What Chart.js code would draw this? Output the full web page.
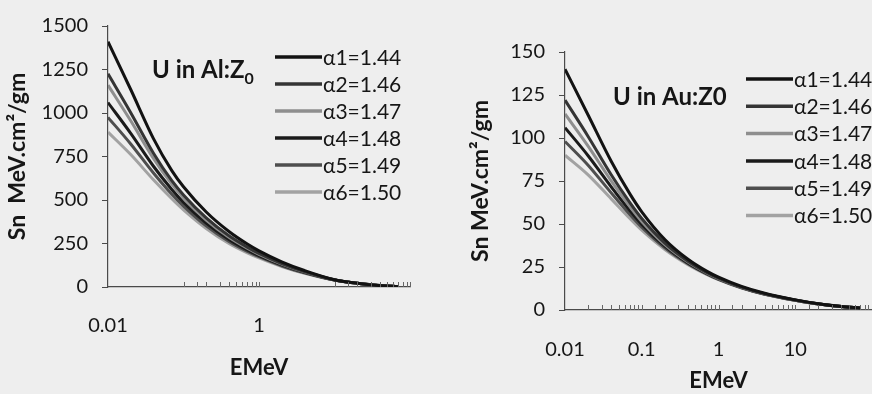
<!DOCTYPE html>
<html>
<head>
<meta charset="utf-8">
<script src="https://cdn.jsdelivr.net/npm/chart.js@4.4.1/dist/chart.umd.min.js"></script>
<style>
  html, body { margin: 0; padding: 0; background: #eeeeee; }
  #page { position: relative; width: 872px; height: 394px; overflow: hidden; background: #eeeeee; }
  #al-wrap { position: absolute; left: 0; top: 0; width: 440px; height: 394px; }
  #au-wrap { position: absolute; left: 440px; top: 0; width: 460px; height: 394px; }
</style>
</head>
<body>
<div id="page">
  <div id="al-wrap"><canvas id="chart-al"></canvas></div>
  <div id="au-wrap"><canvas id="chart-au"></canvas></div>
</div>
<script>
// energies in MeV (x axis, log)
var energies = [0.01, 0.02, 0.04, 0.07, 0.1, 0.2, 0.4, 0.7, 1, 2, 4, 10, 20, 40, 70];
var alphaLabels = ['α1=1.44', 'α2=1.46', 'α3=1.47', 'α4=1.48', 'α5=1.49', 'α6=1.50'];

// U in Al : Sn (MeV.cm2/gm)
var alSn1 = [1410, 1135, 853, 669, 576, 431, 319, 247, 208, 145, 95, 42, 22, 8, 2];
var alSn2 = [1225, 1002, 769, 611, 529, 397, 294, 229, 193, 135, 89, 41.5, 22, 8, 2];
var alSn3 = [1160, 955, 739, 591, 512, 385, 286, 223, 188, 132, 87, 41, 21.5, 8, 2];
var alSn4 = [1060, 883, 694, 560, 486, 367, 273, 213, 180, 127, 84, 40.5, 21, 7.5, 2];
var alSn5 = [975, 822, 655, 533, 465, 351, 261, 204, 174, 122, 82, 40, 21, 7.5, 2];
var alSn6 = [890, 761, 616, 507, 443, 336, 250, 196, 167, 118, 79, 40, 21, 7.5, 2];

// U in Au : Sn (MeV.cm2/gm)
var auSn1 = [140, 113.4, 86.5, 67.5, 57.1, 41.0, 29.5, 22.6, 19.1, 13.7, 9.7, 5.9, 3.6, 2.0, 1.1];
var auSn2 = [122, 100.9, 78.6, 62.4, 53.2, 38.9, 28.4, 21.9, 18.6, 13.3, 9.5, 5.8, 3.6, 2.0, 1.1];
var auSn3 = [114, 95.3, 75.1, 60.1, 51.5, 38.0, 27.9, 21.6, 18.3, 13.2, 9.4, 5.7, 3.55, 2.0, 1.1];
var auSn4 = [106, 89.7, 71.6, 57.8, 49.8, 37.1, 27.4, 21.3, 18.1, 13.0, 9.3, 5.7, 3.5, 2.0, 1.1];
var auSn5 = [98, 84.2, 68.1, 55.5, 48.1, 36.1, 26.9, 21.0, 17.8, 12.9, 9.2, 5.65, 3.5, 2.0, 1.1];
var auSn6 = [90, 78.6, 64.6, 53.2, 46.4, 35.2, 26.4, 20.7, 17.6, 12.7, 9.1, 5.6, 3.5, 2.0, 1.1];

// labelled x ticks
var alXTickLabels = [0.01, 1];
var auXTickLabels = [0.01, 0.1, 1, 10];

var lineColors = ['#121212', '#343434', '#8e8e8e', '#1a1a1a', '#4e4e4e', '#a2a2a2'];
var inkColor = '#161616';
var fontFamily = 'Lato, "Noto Sans", sans-serif';

function makeDatasets(seriesList) {
  return seriesList.map(function (vals, i) {
    return {
      label: alphaLabels[i],
      data: energies.map(function (e, k) { return { x: e, y: vals[k] }; }),
      borderColor: lineColors[i],
      borderWidth: 3,
      pointRadius: 0,
      fill: false,
      cubicInterpolationMode: 'monotone'
    };
  });
}

// small marks inside the plot along the log axis
var innerTicks = {
  id: 'innerTicks',
  afterDatasetsDraw: function (chart, args, opts) {
    var xs = chart.scales.x;
    var ctx = chart.ctx;
    var yb = chart.chartArea.bottom;
    ctx.save();
    ctx.strokeStyle = '#666';
    ctx.lineWidth = 1;
    xs.ticks.forEach(function (t) {
      var ok = opts.ranges.some(function (r) { return t.value >= r[0] * 0.999 && t.value <= r[1] * 1.001; });
      if (!ok) return;
      var px = Math.round(xs.getPixelForValue(t.value)) + 0.5;
      ctx.beginPath();
      ctx.moveTo(px, yb);
      ctx.lineTo(px, yb - 5);
      ctx.stroke();
    });
    ctx.restore();
  }
};

var sideLegend = {
  id: 'sideLegend',
  afterDraw: function (chart, args, opts) {
    var ctx = chart.ctx;
    ctx.save();
    ctx.font = '21px ' + fontFamily;
    ctx.textBaseline = 'middle';
    ctx.textAlign = 'left';
    chart.data.datasets.forEach(function (ds, i) {
      var y = opts.top + i * opts.step;
      ctx.strokeStyle = ds.borderColor;
      ctx.lineWidth = 3.5;
      ctx.beginPath();
      ctx.moveTo(opts.x, y);
      ctx.lineTo(opts.x + opts.len, y);
      ctx.stroke();
      ctx.fillStyle = inkColor;
      ctx.fillText(ds.label, opts.x + opts.len + 1, y + 1);
    });
    ctx.restore();
  }
};

var plotTitle = {
  id: 'plotTitle',
  afterDraw: function (chart, args, opts) {
    var ctx = chart.ctx;
    ctx.save();
    ctx.fillStyle = inkColor;
    ctx.textBaseline = 'alphabetic';
    ctx.textAlign = 'left';
    ctx.font = 'bold 24px ' + fontFamily;
    ctx.fillText(opts.text, opts.x, opts.y);
    if (opts.sub) {
      var w = ctx.measureText(opts.text).width;
      ctx.font = 'bold 16px ' + fontFamily;
      ctx.fillText(opts.sub, opts.x + w, opts.y + 6);
    }
    ctx.restore();
  }
};

function buildChart(canvasId, seriesList, o) {
  return new Chart(document.getElementById(canvasId), {
    type: 'line',
    data: { datasets: makeDatasets(seriesList) },
    plugins: [innerTicks, sideLegend, plotTitle],
    options: {
      responsive: true,
      maintainAspectRatio: false,
      animation: false,
      layout: { padding: { left: 0, top: o.top, right: o.right, bottom: 0 } },
      scales: {
        x: {
          type: 'logarithmic',
          min: 0.01,
          max: 100,
          afterFit: function (s) { s.height = o.xHeight; },
          grid: { display: true, drawOnChartArea: false, drawTicks: false, color: 'rgba(0,0,0,0)' },
          border: { display: true, color: '#4a4a4a', width: 1.2 },
          ticks: {
            autoSkip: false,
            maxRotation: 0,
            padding: o.xPad,
            color: inkColor,
            font: { family: fontFamily, size: 20 },
            callback: function (v) {
              var hit = o.xLabels.filter(function (t) { return Math.abs(Math.log10(v) - Math.log10(t)) < 1e-6; });
              return hit.length ? String(hit[0]) : '';
            }
          },
          title: {
            display: true,
            text: 'EMeV',
            color: inkColor,
            font: { family: fontFamily, size: 22, weight: 'bold' },
            padding: { top: 0, bottom: o.xTitlePad }
          }
        },
        y: {
          min: 0,
          max: o.yMax,
          afterFit: function (s) { s.width = o.yWidth; },
          grid: { drawOnChartArea: false, drawTicks: true, tickLength: 6, color: '#4a4a4a' },
          border: { display: true, color: '#4a4a4a', width: 1.2 },
          ticks: {
            stepSize: o.yStep,
            padding: 14,
            color: inkColor,
            font: { family: fontFamily, size: 20 },
            callback: function (v) { return String(v); }
          },
          title: {
            display: true,
            text: o.yTitle,
            color: inkColor,
            font: { family: fontFamily, size: 23, weight: 'bold' },
            padding: { top: o.yTitlePad, bottom: 0 }
          }
        }
      },
      plugins: {
        legend: { display: false },
        tooltip: { enabled: false },
        innerTicks: { ranges: o.tickRanges },
        sideLegend: o.legend,
        plotTitle: o.title
      }
    }
  });
}

buildChart('chart-al', [alSn1, alSn2, alSn3, alSn4, alSn5, alSn6], {
  top: 17, right: 30, xHeight: 107, yWidth: 108,
  xPad: 27, xTitlePad: 13, yTitlePad: 4,
  yMax: 1500, yStep: 250, yTitle: 'Sn  MeV.cm²/gm',
  xLabels: alXTickLabels,
  tickRanges: [[0.1, 1], [10, 100]],
  legend: { x: 275, len: 47, top: 57, step: 27 },
  title: { text: 'U in Al:Z', sub: '0', x: 152, y: 78 }
});

buildChart('chart-au', [auSn1, auSn2, auSn3, auSn4, auSn5, auSn6], {
  top: 52, right: 22, xHeight: 84, yWidth: 125,
  xPad: 28, xTitlePad: 0, yTitlePad: 27,
  yMax: 150, yStep: 25, yTitle: 'Sn MeV.cm²/gm',
  xLabels: auXTickLabels,
  tickRanges: [[0.02, 100]],
  legend: { x: 306, len: 47, top: 79, step: 27.3 },
  title: { text: 'U in Au:Z0', sub: '', x: 173, y: 105 }
});
</script>
</body>
</html>
